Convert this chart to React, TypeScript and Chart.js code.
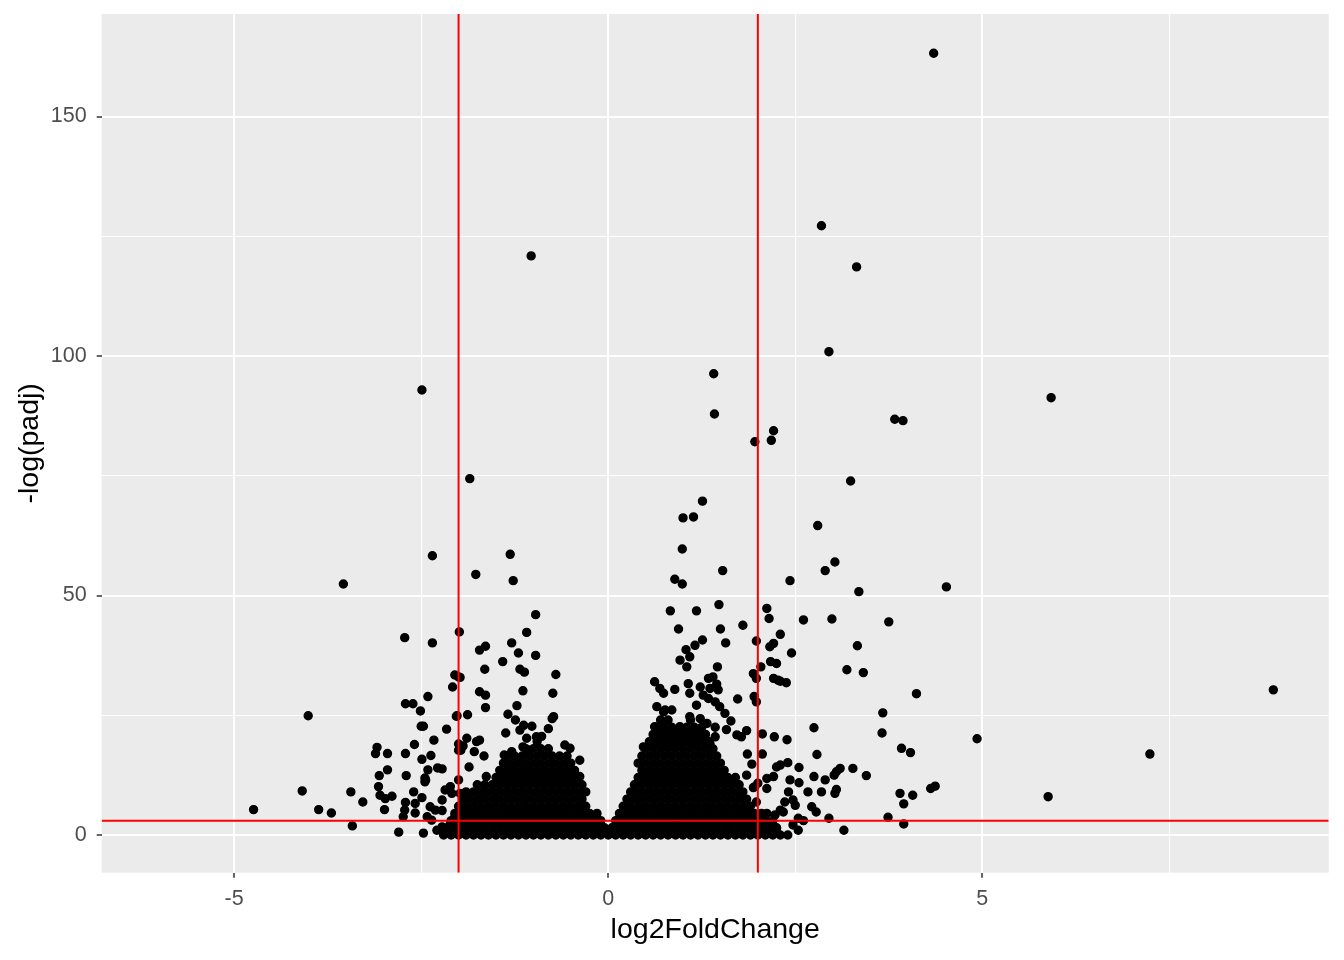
import React, { useEffect, useRef } from "react";
import { Chart, registerables } from "chart.js";

Chart.register(...registerables);

// ---- axis ranges / ticks ----
const X_MIN = -6.77;
const X_MAX = 9.63;
const Y_MIN = -7.87;
const Y_MAX = 171.4;
const xGridValues = [-5, -2.5, 0, 2.5, 5, 7.5];
const xLabelValues = [-5, 0, 5];
const yGridValues = [0, 25, 50, 75, 100, 125, 150];
const yLabelValues = [0, 50, 100, 150];

// ---- thresholds (red lines) ----
const foldChangeCutoffs = [-2, 2];
const padjCutoffs = [3];

// ---- dense core of genes near the origin: [ -log(padj), log2FoldChange values ] ----
const baselineRow: [number, number[]] = [0, [
  -2.2, -2.1, -2.0, -1.9, -1.8, -1.7, -1.6, -1.5, -1.4, -1.3, -1.2, -1.1, -1.0, -0.9, -0.8, -0.7, -0.6, -0.5, -0.4, -0.3, -0.2, -0.1,
  0.0, 0.1, 0.2, 0.3, 0.4, 0.5, 0.6, 0.7, 0.8, 0.9, 1.0, 1.1, 1.2, 1.3, 1.4, 1.5, 1.6, 1.7, 1.8, 1.9, 2.0, 2.1, 2.2, 2.3, 2.4,
]];

const leftCoreRows: [number, number[]][] = [
  [1.5, [-2.15, -2.05, -1.95, -1.85, -1.75, -1.65, -1.55, -1.45, -1.35, -1.25, -1.15, -1.05, -0.95, -0.85, -0.75, -0.65, -0.55, -0.45, -0.35, -0.25, -0.15, -0.05]],
  [3.0, [-2.1, -2.0, -1.9, -1.8, -1.7, -1.6, -1.5, -1.4, -1.3, -1.2, -1.1, -1.0, -0.9, -0.8, -0.7, -0.6, -0.5, -0.4, -0.3, -0.2, -0.1]],
  [4.5, [-2.05, -1.95, -1.85, -1.75, -1.65, -1.55, -1.45, -1.35, -1.25, -1.15, -1.05, -0.95, -0.85, -0.75, -0.65, -0.55, -0.45, -0.35, -0.25, -0.15]],
  [6.0, [-2.0, -1.9, -1.8, -1.7, -1.6, -1.5, -1.4, -1.3, -1.2, -1.1, -1.0, -0.9, -0.8, -0.7, -0.6, -0.5, -0.4, -0.3]],
  [7.5, [-1.95, -1.85, -1.75, -1.65, -1.55, -1.45, -1.35, -1.25, -1.15, -1.05, -0.95, -0.85, -0.75, -0.65, -0.55, -0.45, -0.35]],
  [9.0, [-1.9, -1.8, -1.7, -1.6, -1.5, -1.4, -1.3, -1.2, -1.1, -1.0, -0.9, -0.8, -0.7, -0.6, -0.5, -0.4, -0.3]],
  [10.5, [-1.75, -1.65, -1.55, -1.45, -1.35, -1.25, -1.15, -1.05, -0.95, -0.85, -0.75, -0.65, -0.55, -0.45, -0.35]],
  [12.0, [-1.5, -1.4, -1.3, -1.2, -1.1, -1.0, -0.9, -0.8, -0.7, -0.6, -0.5, -0.4]],
  [13.5, [-1.45, -1.35, -1.25, -1.15, -1.05, -0.95, -0.85, -0.75, -0.65, -0.55, -0.45]],
  [15.0, [-1.4, -1.3, -1.2, -1.1, -1.0, -0.9, -0.8, -0.7, -0.6, -0.5]],
  [16.5, [-1.35, -1.25, -1.15, -1.05, -0.95, -0.85, -0.75, -0.65, -0.55]],
  [18.0, [-1.1, -1.0, -0.9, -0.8]],
  [19.5, [-0.95]],
];

const rightCoreRows: [number, number[]][] = [
  [1.5, [0.05, 0.15, 0.25, 0.35, 0.45, 0.55, 0.65, 0.75, 0.85, 0.95, 1.05, 1.15, 1.25, 1.35, 1.45, 1.55, 1.65, 1.75, 1.85, 1.95, 2.05, 2.15, 2.25]],
  [3.0, [0.1, 0.2, 0.3, 0.4, 0.5, 0.6, 0.7, 0.8, 0.9, 1.0, 1.1, 1.2, 1.3, 1.4, 1.5, 1.6, 1.7, 1.8, 1.9, 2.0, 2.1, 2.2]],
  [4.5, [0.15, 0.25, 0.35, 0.45, 0.55, 0.65, 0.75, 0.85, 0.95, 1.05, 1.15, 1.25, 1.35, 1.45, 1.55, 1.65, 1.75, 1.85, 1.95, 2.05]],
  [6.0, [0.2, 0.3, 0.4, 0.5, 0.6, 0.7, 0.8, 0.9, 1.0, 1.1, 1.2, 1.3, 1.4, 1.5, 1.6, 1.7, 1.8, 1.9]],
  [7.5, [0.25, 0.35, 0.45, 0.55, 0.65, 0.75, 0.85, 0.95, 1.05, 1.15, 1.25, 1.35, 1.45, 1.55, 1.65, 1.75, 1.85]],
  [9.0, [0.3, 0.4, 0.5, 0.6, 0.7, 0.8, 0.9, 1.0, 1.1, 1.2, 1.3, 1.4, 1.5, 1.6, 1.7, 1.8]],
  [10.5, [0.35, 0.45, 0.55, 0.65, 0.75, 0.85, 0.95, 1.05, 1.15, 1.25, 1.35, 1.45, 1.55, 1.65, 1.75]],
  [12.0, [0.4, 0.5, 0.6, 0.7, 0.8, 0.9, 1.0, 1.1, 1.2, 1.3, 1.4, 1.5, 1.6, 1.7]],
  [13.5, [0.45, 0.55, 0.65, 0.75, 0.85, 0.95, 1.05, 1.15, 1.25, 1.35, 1.45, 1.55]],
  [15.0, [0.4, 0.5, 0.6, 0.7, 0.8, 0.9, 1.0, 1.1, 1.2, 1.3, 1.4, 1.5]],
  [16.5, [0.45, 0.55, 0.65, 0.75, 0.85, 0.95, 1.05, 1.15, 1.25, 1.35, 1.45]],
  [18.0, [0.5, 0.6, 0.7, 0.8, 0.9, 1.0, 1.1, 1.2, 1.3, 1.4]],
  [19.5, [0.55, 0.65, 0.75, 0.85, 0.95, 1.05, 1.15, 1.25, 1.35]],
  [21.0, [0.6, 0.7, 0.8, 0.9, 1.0, 1.1, 1.2, 1.3]],
  [22.5, [0.65, 0.75, 0.85, 0.95, 1.05, 1.15, 1.25]],
  [24.0, [0.7, 0.8, 1.1]],
];

// ---- individually visible genes: [log2FoldChange, -log(padj)] ----
const downGenes: [number, number][] = [
  [-2.35, 58.3], [-3.54, 52.4], [-2.72, 41.2], [-2.35, 40.1], [-1.99, 42.4], [-2.05, 33.4], [-2.0, 33.0], [-2.08, 30.9],
  [-2.41, 28.9], [-2.71, 27.4], [-2.61, 27.4], [-2.51, 25.9], [-4.01, 24.9], [-2.02, 24.9], [-2.5, 22.7], [-2.47, 22.7],
  [-2.16, 22.1], [-2.33, 19.8], [-2.0, 19.0], [-2.0, 17.7], [-3.09, 18.3], [-3.11, 17.0], [-2.95, 17.0], [-2.71, 17.0],
  [-2.59, 18.9], [-2.37, 16.6], [-2.49, 15.8], [-2.95, 13.6], [-3.06, 12.4], [-2.7, 12.4], [-2.41, 13.6], [-2.28, 14.0],
  [-2.22, 13.8], [-2.45, 11.9], [-2.45, 11.1], [-3.07, 10.1], [-3.05, 8.3], [-2.98, 7.6], [-2.89, 8.1], [-2.99, 5.3],
  [-4.09, 9.2], [-3.44, 9.0], [-3.28, 6.9], [-4.74, 5.3], [-3.87, 5.3], [-3.7, 4.6], [-3.42, 1.9], [-2.8, 0.6],
  [-2.47, 0.4], [-2.6, 9.0], [-2.71, 6.8], [-2.72, 5.2], [-2.74, 3.8], [-2.49, 7.8], [-2.58, 6.6], [-2.58, 4.6],
  [-2.38, 5.9], [-2.31, 5.2], [-2.22, 5.1], [-2.42, 3.8], [-2.36, 3.1], [-2.29, 1.0], [-2.22, 1.7], [-2.11, 2.4],
  [-2.05, 3.8], [-2.09, 8.7], [-2.18, 9.4], [-2.22, 7.3], [-2.11, 10.1], [-2.0, 11.5],
  [-1.72, 38.6], [-1.64, 39.4], [-1.29, 40.1], [-1.2, 38.0], [-0.97, 37.5], [-1.41, 36.2], [-1.65, 34.6], [-1.18, 34.6],
  [-1.12, 34.0], [-0.7, 33.5], [-1.98, 32.9], [-1.72, 29.9], [-1.64, 29.2], [-1.14, 30.1], [-0.74, 29.6], [-1.64, 26.6],
  [-1.22, 27.0], [-1.34, 25.2], [-2.03, 24.8], [-1.88, 25.1], [-0.75, 24.3], [-0.73, 24.7], [-1.24, 24.0], [-1.13, 22.9],
  [-1.02, 22.7], [-1.18, 21.9], [-0.8, 22.2], [-1.37, 21.3], [-1.89, 20.2], [-1.76, 19.5], [-1.72, 19.8], [-1.94, 18.6],
  [-1.97, 17.7], [-1.79, 17.4], [-1.66, 16.5], [-1.09, 20.2], [-0.96, 20.5], [-0.89, 20.6], [-1.14, 18.4], [-1.05, 17.7],
  [-0.58, 18.8], [-0.51, 18.1], [-1.39, 16.7], [-1.29, 17.4], [-0.38, 15.6], [-1.86, 14.2], [-2.44, 11.5], [-1.63, 12.2],
  [-0.38, 12.2], [-1.98, 8.7],
  [-1.31, 58.6], [-1.77, 54.4], [-1.27, 53.1], [-0.97, 46.0], [-1.09, 42.3], [-1.03, 120.9], [-2.49, 92.9], [-1.85, 74.4],
];

const upGenes: [number, number][] = [
  [4.35, 163.2], [2.85, 127.2], [3.32, 118.6], [2.95, 100.9], [1.41, 96.3], [5.92, 91.3], [1.42, 87.9], [3.83, 86.8],
  [3.94, 86.5], [2.21, 84.4], [2.18, 82.4], [1.96, 82.1], [3.24, 73.9], [1.26, 69.7], [1.0, 66.2], [1.14, 66.4],
  [2.8, 64.6], [0.99, 59.7], [1.53, 55.2], [0.89, 53.4], [0.99, 52.4], [3.03, 57.0], [2.9, 55.2], [2.43, 53.1],
  [4.52, 51.8], [3.35, 50.8], [0.83, 46.8], [1.18, 46.8], [1.48, 48.1], [2.12, 47.3], [2.15, 45.2], [2.61, 44.9],
  [2.99, 45.1], [3.75, 44.5], [0.94, 43.0], [1.5, 43.0], [1.8, 43.8], [2.3, 41.9], [1.57, 40.1], [1.26, 40.7],
  [1.98, 40.5], [2.16, 39.3], [2.21, 40.0], [3.33, 39.5], [1.04, 38.7], [1.16, 39.6], [1.09, 37.2], [2.45, 38.0],
  [0.96, 36.5], [1.05, 35.1], [1.46, 35.1], [2.04, 35.1], [2.17, 36.2], [2.25, 35.8], [3.19, 34.5], [3.41, 33.9],
  [2.21, 32.7], [2.27, 32.3], [1.94, 33.7], [1.98, 32.7], [2.3, 32.1], [2.38, 31.8], [0.62, 32.0], [0.69, 30.6],
  [0.74, 29.6], [0.89, 30.4], [1.07, 31.6], [1.09, 29.6], [1.23, 30.9], [1.18, 27.1], [1.34, 32.7], [1.4, 33.0],
  [1.45, 31.5], [1.36, 30.6], [1.47, 30.3], [1.27, 29.2], [1.34, 28.5], [1.43, 27.8], [1.49, 26.8], [1.56, 25.4],
  [1.73, 28.4], [1.95, 28.9], [1.98, 27.8], [4.12, 29.5], [8.89, 30.3], [0.65, 26.8], [0.76, 26.1], [0.85, 26.1],
  [1.64, 23.8], [1.58, 22.0], [1.72, 20.9], [1.85, 21.8], [1.43, 22.5], [2.06, 21.1], [2.22, 20.5], [3.67, 25.5],
  [3.66, 21.3], [4.93, 20.1], [2.75, 22.4], [1.78, 20.5], [2.39, 19.9], [1.86, 16.9], [2.06, 16.9], [2.79, 16.8],
  [3.92, 18.1], [4.04, 17.2], [7.24, 16.9], [1.92, 14.8], [2.25, 14.2], [2.3, 14.6], [2.4, 15.1], [2.55, 14.1],
  [3.1, 13.9], [3.05, 13.2], [3.27, 13.9], [3.45, 12.4], [2.12, 11.8], [2.21, 12.2], [1.85, 12.5], [2.75, 12.2],
  [2.9, 11.5], [3.02, 12.5], [2.43, 11.5], [2.55, 10.9], [1.96, 10.1], [2.0, 10.8], [2.12, 9.7], [1.94, 9.9],
  [2.41, 9.0], [2.67, 9.0], [2.85, 9.0], [3.03, 8.7], [3.05, 9.5], [4.31, 9.7], [4.37, 10.2], [3.9, 8.7],
  [4.07, 8.3], [3.95, 6.5], [5.88, 8.0], [1.98, 6.9], [2.36, 6.9], [2.47, 7.3], [2.5, 6.2], [2.72, 5.9],
  [2.78, 4.8], [2.12, 4.5], [2.3, 5.2], [2.23, 4.2], [2.34, 4.8], [2.54, 3.5], [2.61, 3.0], [2.95, 3.5],
  [3.74, 3.7], [3.95, 2.3], [3.15, 1.0], [2.25, 1.4], [2.54, 1.0], [2.47, 2.1], [2.03, 1.0],
  [0.47, 18.4], [0.58, 19.1], [0.65, 20.5], [0.62, 22.6], [0.71, 23.3], [0.74, 25.7], [0.85, 21.9], [0.96, 22.6],
  [1.09, 24.7], [1.23, 24.3], [1.32, 23.3], [1.43, 20.5], [1.36, 19.1],
];

const FONT = '"Liberation Sans", Arial, sans-serif';

function rowsToPoints(rows: [number, number[]][]) {
  const pts: { x: number; y: number }[] = [];
  rows.forEach(([y, xs]) => xs.forEach((x) => pts.push({ x, y })));
  return pts;
}

const panelBackground = {
  id: "panelBackground",
  beforeDraw(chart: any) {
    const { ctx, chartArea } = chart;
    ctx.save();
    ctx.fillStyle = "#EBEBEB";
    ctx.fillRect(chartArea.left, chartArea.top, chartArea.right - chartArea.left, chartArea.bottom - chartArea.top);
    ctx.restore();
  },
};

export default function App() {
  const ref = useRef<HTMLCanvasElement | null>(null);

  useEffect(() => {
    if (!ref.current) return;
    const genePoints = [
      ...rowsToPoints([baselineRow]),
      ...rowsToPoints(leftCoreRows),
      ...rowsToPoints(rightCoreRows),
      ...downGenes.map(([x, y]) => ({ x, y })),
      ...upGenes.map(([x, y]) => ({ x, y })),
    ];

    const lineDatasets: any[] = [];
    foldChangeCutoffs.forEach((v) =>
      lineDatasets.push({
        data: [{ x: v, y: Y_MIN }, { x: v, y: Y_MAX }],
        showLine: true,
        borderColor: "#FF0000",
        borderWidth: 2,
        pointRadius: 0,
        order: 0,
      })
    );
    padjCutoffs.forEach((v) =>
      lineDatasets.push({
        data: [{ x: X_MIN, y: v }, { x: X_MAX, y: v }],
        showLine: true,
        borderColor: "#FF0000",
        borderWidth: 2,
        pointRadius: 0,
        order: 0,
      })
    );

    const chart = new Chart(ref.current, {
      type: "scatter",
      data: {
        datasets: [
          ...lineDatasets,
          {
            data: genePoints,
            pointRadius: 4,
            pointBorderWidth: 1.4,
            pointBackgroundColor: "#000000",
            pointBorderColor: "#000000",
            order: 1,
          },
        ],
      },
      options: {
        animation: false,
        responsive: false,
        events: [],
        layout: { padding: { top: 14, right: 15.3, left: 0, bottom: 0 } },
        plugins: { legend: { display: false }, tooltip: { enabled: false } },
        scales: {
          x: {
            type: "linear",
            min: X_MIN,
            max: X_MAX,
            afterBuildTicks: (s: any) => {
              s.ticks = xGridValues.map((v) => ({ value: v }));
            },
            afterFit: (s: any) => {
              s.height = 960 - 872.7;
              s.paddingLeft = 0;
              s.paddingRight = 0;
            },
            border: { display: false },
            grid: {
              color: "#FFFFFF",
              lineWidth: (c: any) => (xLabelValues.includes(c.tick?.value) ? 2 : 1.1),
              tickColor: (c: any) => (xLabelValues.includes(c.tick?.value) ? "#333333" : "rgba(0,0,0,0)"),
              tickLength: 5,
              tickWidth: 1.5,
            },
            ticks: {
              autoSkip: false,
              maxRotation: 0,
              padding: 8,
              color: "#4D4D4D",
              font: { family: FONT, size: 21.5 },
              callback: (v: any) => (xLabelValues.includes(v) ? String(v) : ""),
            },
            title: {
              display: true,
              text: "log2FoldChange",
              color: "#000000",
              font: { family: FONT, size: 28.5 },
              padding: { top: 0, bottom: 13 },
            },
          },
          y: {
            type: "linear",
            min: Y_MIN,
            max: Y_MAX,
            afterBuildTicks: (s: any) => {
              s.ticks = yGridValues.map((v) => ({ value: v }));
            },
            afterFit: (s: any) => {
              s.width = 101.7;
              s.paddingTop = 0;
              s.paddingBottom = 0;
            },
            border: { display: false },
            grid: {
              color: "#FFFFFF",
              lineWidth: (c: any) => (yLabelValues.includes(c.tick?.value) ? 2 : 1.1),
              tickColor: (c: any) => (yLabelValues.includes(c.tick?.value) ? "#333333" : "rgba(0,0,0,0)"),
              tickLength: 5,
              tickWidth: 1.5,
            },
            ticks: {
              autoSkip: false,
              padding: 10,
              color: "#4D4D4D",
              font: { family: FONT, size: 21.5 },
              callback: (v: any) => (yLabelValues.includes(v) ? String(v) : ""),
            },
            title: {
              display: true,
              text: "-log(padj)",
              color: "#000000",
              font: { family: FONT, size: 28.5 },
              padding: { top: 13, bottom: 0 },
            },
          },
        },
      },
      plugins: [panelBackground],
    } as any);

    return () => chart.destroy();
  }, []);

  return (
    <div style={{ position: "absolute", left: 0, top: 0, width: 1344, height: 960, background: "#FFFFFF" }}>
      <canvas ref={ref} width={1344} height={960} />
    </div>
  );
}
